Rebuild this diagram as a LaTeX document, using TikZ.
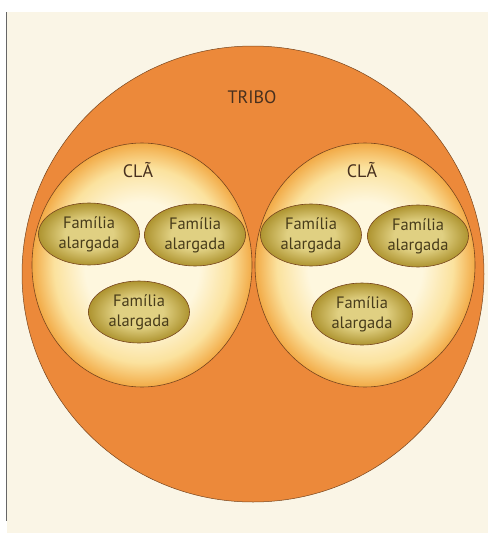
\documentclass[tikz,border=0pt]{standalone}
\usepackage{fontspec}
\setmainfont{PT Sans}
\usetikzlibrary{shapes.geometric}
\definecolor{paper}{RGB}{250,245,230}
\definecolor{tribeorange}{RGB}{236,137,58}
\definecolor{edgebrown}{RGB}{120,70,30}
\definecolor{clancream}{RGB}{254,247,222}
\definecolor{clanmid}{RGB}{251,226,158}
\definecolor{clangold}{RGB}{242,170,70}
\definecolor{famlight}{RGB}{224,208,130}
\definecolor{famdark}{RGB}{174,148,48}
\definecolor{textbrown}{RGB}{72,48,30}
\definecolor{famtext}{RGB}{72,60,26}
\pgfdeclareradialshading{clanshade}{\pgfpoint{0bp}{0bp}}{color(0bp)=(clancream); color(13bp)=(clancream); color(20bp)=(clanmid); color(25bp)=(clangold); color(50bp)=(clangold)}
\pgfdeclareradialshading{famshade}{\pgfpoint{0bp}{0bp}}{color(0bp)=(famlight); color(12bp)=(famlight); color(25bp)=(famdark); color(50bp)=(famdark)}
\tikzset{
  tribe/.style={ellipse, draw=edgebrown, line width=0.5pt, fill=tribeorange,
    minimum width=462pt, minimum height=456pt, inner sep=0pt},
  clan/.style={ellipse, draw=edgebrown, line width=0.6pt, shading=clanshade,
    minimum width=220pt, minimum height=244pt, inner sep=0pt},
  family/.style={ellipse, draw=edgebrown, line width=0.6pt, shading=famshade,
    minimum width=101pt, minimum height=62pt, inner sep=0pt,
    align=center, text=famtext, font=\fontsize{16.5}{20}\selectfont},
  title/.style={text=textbrown, font=\fontsize{18}{20}\selectfont, inner sep=0pt},
}
\begin{document}
\begin{tikzpicture}[x=1pt,y=-1pt]
\useasboundingbox (0,0) rectangle (488,533);
\fill[white] (0,0) rectangle (488,533);
\fill[paper] (7,12) rectangle (488,533);
\draw[gray!80!black, line width=1.5pt] (6.5,12) -- (6.5,521);
\node[tribe] (tribo) at (253,274) {};
\node[title] (tribolabel) at (252,97) {TRIBO};
\node[clan] (clanA) at (142,265) {};
\node[clan] (clanB) at (365,265) {};
\node[title] (clanAlabel) at (138,170) {CLÃ};
\node[title] (clanBlabel) at (362,170) {CLÃ};
\node[family] (famA1) at (89,234) {Família\\alargada};
\node[family] (famA2) at (195,235) {Família\\alargada};
\node[family] (famA3) at (139,312) {Família\\alargada};
\node[family] (famB1) at (311,235) {Família\\alargada};
\node[family] (famB2) at (418,236) {Família\\alargada};
\node[family] (famB3) at (362,314) {Família\\alargada};
\end{tikzpicture}
\end{document}
